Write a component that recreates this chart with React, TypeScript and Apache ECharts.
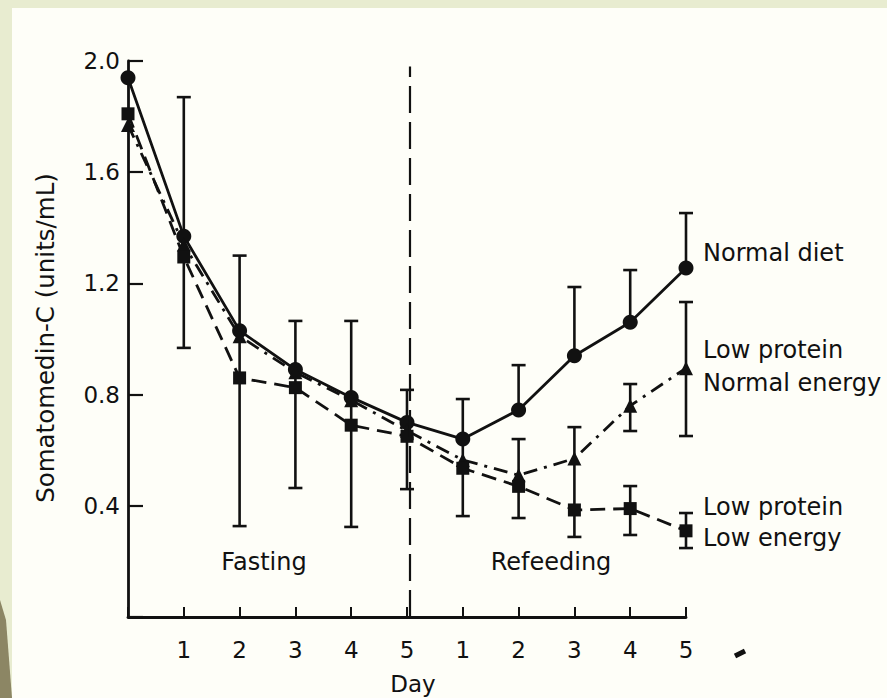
import React, { useEffect, useRef } from "react";
import * as echarts from "echarts";

// ---- data ----
const days = [0, 1, 2, 3, 4, 5, 6, 7, 8, 9, 10];
const xTickLabels = ["", "1", "2", "3", "4", "5", "1", "2", "3", "4", "5"];
const yTicks = [0, 0.4, 0.8, 1.2, 1.6, 2.0];
const normalDiet = [1.94, 1.37, 1.03, 0.89, 0.79, 0.70, 0.64, 0.745, 0.94, 1.06, 1.255];
const lowProteinNormalEnergy = [1.77, 1.34, 1.01, 0.88, 0.78, 0.67, 0.565, 0.51, 0.57, 0.76, 0.895];
const lowProteinLowEnergy = [1.81, 1.295, 0.86, 0.825, 0.69, 0.65, 0.535, 0.47, 0.385, 0.39, 0.31];
// [day, low, high]
const errorBars = [
  [1, 0.968, 1.87],
  [2, 0.327, 1.30],
  [3, 0.464, 1.065],
  [4, 0.324, 1.065],
  [5, 0.46, 0.817],
  [6, 0.363, 0.784],
  [7, 0.745, 0.906],
  [7, 0.356, 0.64],
  [8, 0.94, 1.187],
  [8, 0.288, 0.683],
  [9, 1.06, 1.248],
  [9, 0.669, 0.838],
  [9, 0.295, 0.471],
  [10, 1.255, 1.453],
  [10, 0.651, 1.133],
  [10, 0.248, 0.374],
];
const dividerDay = 5.05;
const dividerTop = 1.98;
const phaseLabels = ["Fasting", "Refeeding"];
const seriesLabels = ["Normal diet", "Low protein\nNormal energy", "Low protein\nLow energy"];
const yAxisName = "Somatomedin-C (units/mL)";
const xAxisName = "Day";

const FONT = "DejaVu Sans";
const INK = "#111";

export default function App() {
  const ref = useRef<HTMLDivElement>(null);
  useEffect(() => {
    if (!ref.current) return;
    const chart = echarts.init(ref.current, null, { renderer: "svg" });
    const toPairs = (arr: number[]) => arr.map((v, i) => [days[i], v]);
    const lineCommon = {
      type: "line" as const,
      symbolKeepAspect: true,
      itemStyle: { color: INK },
      z: 3,
    };
    chart.setOption({
      animation: false,
      backgroundColor: "#fefef8",
      grid: { left: 128, top: 61, right: 201, bottom: 81, containLabel: false },
      xAxis: {
        type: "value",
        min: 0,
        max: 10,
        interval: 1,
        axisLine: { show: true, lineStyle: { color: INK, width: 2.8 } },
        axisTick: { show: true, inside: true, length: 10, lineStyle: { color: INK, width: 2 } },
        axisLabel: {
          color: INK,
          fontFamily: FONT,
          fontSize: 23,
          margin: 21,
          formatter: (v: number) => xTickLabels[Math.round(v)] ?? "",
        },
        splitLine: { show: false },
      },
      yAxis: {
        type: "value",
        min: yTicks[0],
        max: yTicks[yTicks.length - 1],
        interval: 0.4,
        axisLine: { show: true, lineStyle: { color: INK, width: 2.8 } },
        axisTick: { show: true, inside: true, length: 15, lineStyle: { color: INK, width: 2.2 } },
        axisLabel: {
          color: INK,
          fontFamily: FONT,
          fontSize: 23,
          margin: 8,
          formatter: (v: number) => (v === 0 ? "" : v.toFixed(1)),
        },
        splitLine: { show: false },
      },
      graphic: [
        { type: "rect", shape: { x: 0, y: 0, width: 887, height: 8 }, style: { fill: "#e8ecd0" }, z: -10 },
        { type: "rect", shape: { x: 0, y: 0, width: 12, height: 698 }, style: { fill: "#e8ecd0" }, z: -10 },
        {
          type: "polygon",
          shape: { points: [[0, 600], [6, 620], [12, 698], [0, 698]] },
          style: { fill: "#8c8664" },
          z: -9,
        },
        {
          type: "text",
          x: 45,
          y: 338,
          rotation: Math.PI / 2,
          style: { text: yAxisName, fill: INK, font: `24.5px "${FONT}"`, align: "center", verticalAlign: "middle" },
        },
        {
          type: "text",
          x: 413,
          y: 684,
          style: { text: xAxisName, fill: INK, font: `23px "${FONT}"`, align: "center", verticalAlign: "middle" },
        },
        {
          type: "text",
          x: 264,
          y: 562,
          style: { text: phaseLabels[0], fill: INK, font: `24px "${FONT}"`, align: "center", verticalAlign: "middle" },
        },
        {
          type: "text",
          x: 551,
          y: 562,
          style: { text: phaseLabels[1], fill: INK, font: `24px "${FONT}"`, align: "center", verticalAlign: "middle" },
        },
        {
          type: "text",
          x: 703,
          y: 253,
          style: { text: seriesLabels[0], fill: INK, font: `24px "${FONT}"`, align: "left", verticalAlign: "middle" },
        },
        {
          type: "text",
          x: 703,
          y: 366,
          style: { text: seriesLabels[1], fill: INK, font: `24px "${FONT}"`, lineHeight: 33, align: "left", verticalAlign: "middle" },
        },
        {
          type: "text",
          x: 703,
          y: 522,
          style: { text: seriesLabels[2], fill: INK, font: `24px "${FONT}"`, lineHeight: 31, align: "left", verticalAlign: "middle" },
        },
        {
          type: "line",
          shape: { x1: 735, y1: 656, x2: 745, y2: 651 },
          style: { stroke: INK, lineWidth: 5 },
        },
      ],
      series: [
        {
          type: "custom",
          name: "error",
          data: errorBars,
          z: 2,
          renderItem: (params: any, api: any) => {
            const x = api.value(0);
            const lo = api.coord([x, api.value(1)]);
            const hi = api.coord([x, api.value(2)]);
            const hw = 7;
            const st = { stroke: INK, lineWidth: 2.6 };
            return {
              type: "group",
              children: [
                { type: "line", shape: { x1: lo[0], y1: lo[1], x2: hi[0], y2: hi[1] }, style: st },
                { type: "line", shape: { x1: lo[0] - hw, y1: lo[1], x2: lo[0] + hw, y2: lo[1] }, style: st },
                { type: "line", shape: { x1: hi[0] - hw, y1: hi[1], x2: hi[0] + hw, y2: hi[1] }, style: st },
              ],
            };
          },
        },
        {
          ...lineCommon,
          name: "Normal diet",
          data: toPairs(normalDiet),
          symbol: "circle",
          symbolSize: 15,
          lineStyle: { color: INK, width: 2.8, type: "solid" },
          markLine: {
            silent: true,
            symbol: ["none", "none"],
            label: { show: false },
            lineStyle: { color: INK, width: 2.2, type: [27, 9] },
            data: [[{ coord: [dividerDay, 0] }, { coord: [dividerDay, dividerTop] }]],
          },
        },
        {
          ...lineCommon,
          name: "Low protein, Normal energy",
          data: toPairs(lowProteinNormalEnergy),
          symbol: "triangle",
          symbolSize: 14,
          lineStyle: { color: INK, width: 2.8, type: [14, 7, 3, 7] },
        },
        {
          ...lineCommon,
          name: "Low protein, Low energy",
          data: toPairs(lowProteinLowEnergy),
          symbol: "rect",
          symbolSize: 13,
          lineStyle: { color: INK, width: 2.8, type: [15, 8] },
        },
      ],
    });
    return () => chart.dispose();
  }, []);
  return (
    <div
      ref={ref}
      style={{ position: "fixed", left: 0, top: 0, width: 887, height: 698 }}
    />
  );
}
